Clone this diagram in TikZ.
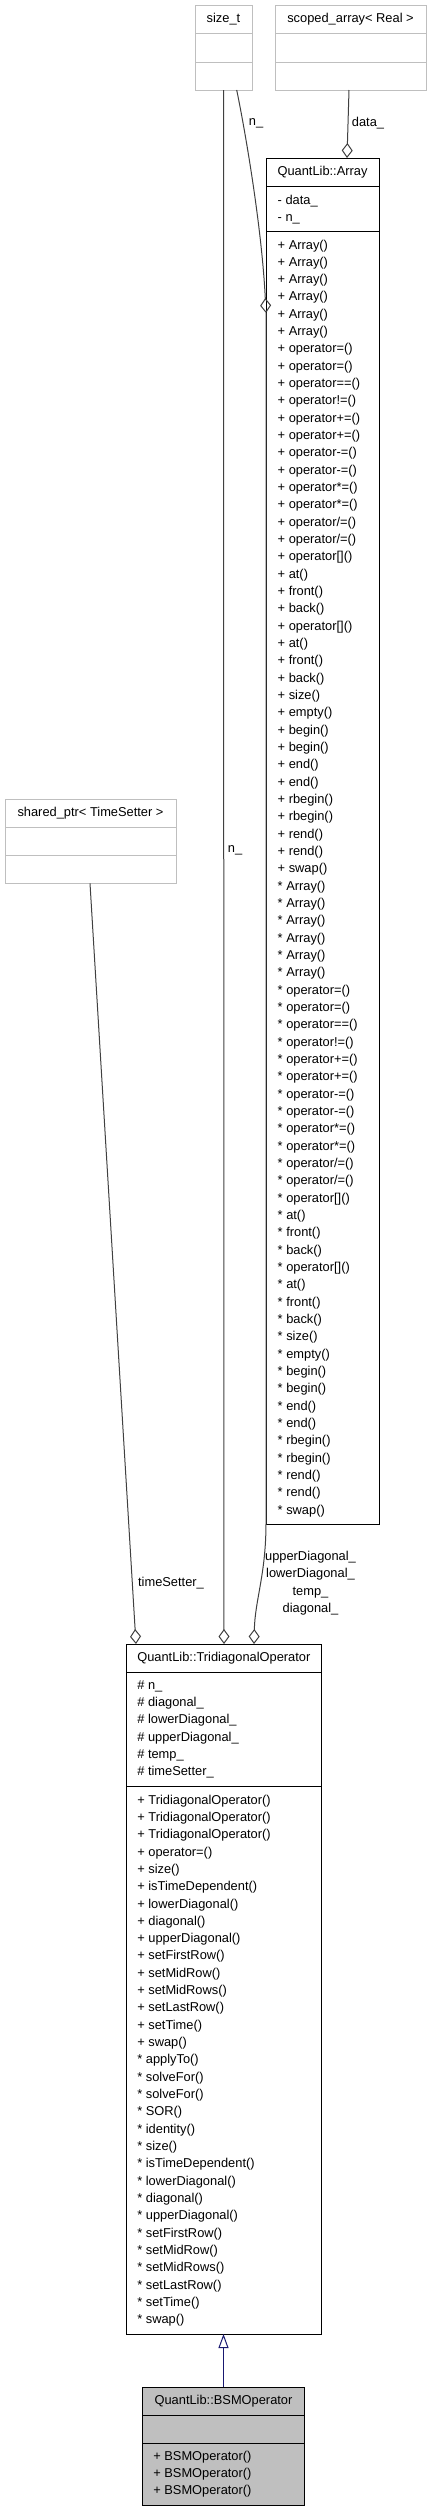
\documentclass[tikz,border=0pt]{standalone}
\usepackage{fontspec}
\setmainfont{Liberation Sans}
\usetikzlibrary{arrows.meta}
\definecolor{extgray}{RGB}{191,191,191}
\definecolor{edgegray}{RGB}{64,64,64}
\definecolor{inhblue}{RGB}{25,25,112}
\definecolor{bsmfill}{RGB}{191,191,191}
\def\arrlist{Array(),Array(),Array(),Array(),Array(),Array(),operator=(),operator=(),operator==(),operator!=(),operator+=(),operator+=(),operator-=(),operator-=(),operator*=(),operator*=(),operator/=(),operator/=(),operator[](),at(),front(),back(),operator[](),at(),front(),back(),size(),empty(),begin(),begin(),end(),end(),rbegin(),rbegin(),rend(),rend(),swap()}
\def\triplus{TridiagonalOperator(),TridiagonalOperator(),TridiagonalOperator(),operator=(),size(),isTimeDependent(),lowerDiagonal(),diagonal(),upperDiagonal(),setFirstRow(),setMidRow(),setMidRows(),setLastRow(),setTime(),swap()}
\def\tristar{applyTo(),solveFor(),solveFor(),SOR(),identity(),size(),isTimeDependent(),lowerDiagonal(),diagonal(),upperDiagonal(),setFirstRow(),setMidRow(),setMidRows(),setLastRow(),setTime(),swap()}
\def\triattr{n\_,diagonal\_,lowerDiagonal\_,upperDiagonal\_,temp\_,timeSetter\_}
\begin{document}
\begin{tikzpicture}[x=1pt,y=-1pt,
  every node/.style={font=\fontsize{12.85pt}{17.33pt}\selectfont, inner sep=0pt, outer sep=0pt},
  umlbox/.style={draw=black, line width=1pt, rectangle, anchor=north west, inner sep=0pt},
  extbox/.style={umlbox, draw=extgray},
  row/.style={anchor=base west},
  ttl/.style={anchor=center},
  sep/.style={line width=1pt},
  agg/.style={draw=edgegray, line width=1pt, -{Diamond[open, length=15pt, width=11pt, line width=1pt]}},
  lbl/.style={anchor=center},
  inh/.style={draw=inhblue, line width=1pt, -{Triangle[open, length=14pt, width=10pt, line width=1pt]}}
]
\useasboundingbox (0,0) rectangle (431,2512);

% boxes
\node[extbox, minimum width=57, minimum height=85] (sizet) at (195,5) {};
\node[extbox, minimum width=151, minimum height=85] (scoped) at (275,5) {};
\node[extbox, minimum width=171, minimum height=84] (shptr) at (5,799.3) {};
\node[umlbox, minimum width=113, minimum height=1366] (array) at (266,158) {};
\node[umlbox, minimum width=194.3, minimum height=690] (tri) at (126.7,1644) {};
\node[umlbox, fill=bsmfill, minimum width=161.6, minimum height=118.4] (bsm) at (142.7,2387.3) {};

% compartment separators
\foreach \b/\s/\c in {sizet/28/extgray, sizet/57/extgray, scoped/28/extgray, scoped/57/extgray,
  shptr/28/extgray, shptr/56/extgray, array/28/black, array/73/black,
  tri/28/black, tri/142.5/black, bsm/28/black, bsm/56/black}
  {\draw[sep, draw=\c] ([yshift=-\s]\b.north west) -- ([yshift=-\s]\b.north east);}

% titles
\node[ttl] (sizetT) at (223.5,19.5) {size\_t};
\node[ttl] (scopedT) at (350.5,19.5) {scoped\_array< Real >};
\node[ttl] (shptrT) at (90.5,813.5) {shared\_ptr< TimeSetter >};
\node[ttl] (arrayT) at (322.5,172) {QuantLib::Array};
\node[ttl] (triT) at (223.85,1658) {QuantLib::TridiagonalOperator};
\node[ttl] (bsmT) at (223.5,2401.5) {QuantLib::BSMOperator};

% Array members
\node[row] (aa0) at (277.7,204) {- data\_};
\node[row] (aa1) at (277.7,221.3) {- n\_};
\foreach \t [count=\i from 0] in \arrlist {\node[row] (ap\i) at (277.7,{249+\i*17.33}) {+ \t};}
\foreach \t [count=\i from 0] in \arrlist {\node[row] (as\i) at (277.7,{249+(\i+37)*17.33}) {* \t};}

% Tridiagonal members
\foreach \t [count=\i from 0] in \triattr {\node[row] (ta\i) at (137.3,{1689.3+\i*17.33}) {\# \t};}
\foreach \t [count=\i from 0] in \triplus {\node[row] (tp\i) at (137.3,{1804+\i*17.33}) {+ \t};}
\foreach \t [count=\i from 0] in \tristar {\node[row] (ts\i) at (137.3,{1804+(\i+15)*17.33}) {* \t};}

% BSM members
\foreach \i in {0,1,2} {\node[row] (bp\i) at (153.3,{2460+\i*17.33}) {+ BSMOperator()};}

% connectors
\draw[agg] ([xshift=13.2]sizet.south) .. controls (246,135) and (262,230) .. ([yshift=-155]array.north west);
\draw[agg] ([xshift=-1.5]scoped.south) -- ([xshift=24.5]array.north);
\draw[agg] (sizet.south) -- ([xshift=0.15]tri.north);
\draw[agg] ([xshift=-0.5]shptr.south) -- ([xshift=-87.85]tri.north);
\draw[agg] ([yshift=-155]array.north west) -- (array.south west) .. controls (265.8,1575) and (255,1600) .. ([xshift=30.15]tri.north);
\draw[inh] (bsm.north) -- (bsm.north |- tri.south);

% labels
\node[lbl] (lnA) at (256,123) {n\_};
\node[lbl] (ldata) at (368,123) {data\_};
\node[lbl] (lnT) at (235,850) {n\_};
\node[lbl] (lts) at (171,1583) {timeSetter\_};
\node[lbl, align=center] (ldiag) at (310.5,1583) {upperDiagonal\_\\lowerDiagonal\_\\temp\_\\diagonal\_};
\end{tikzpicture}
\end{document}
